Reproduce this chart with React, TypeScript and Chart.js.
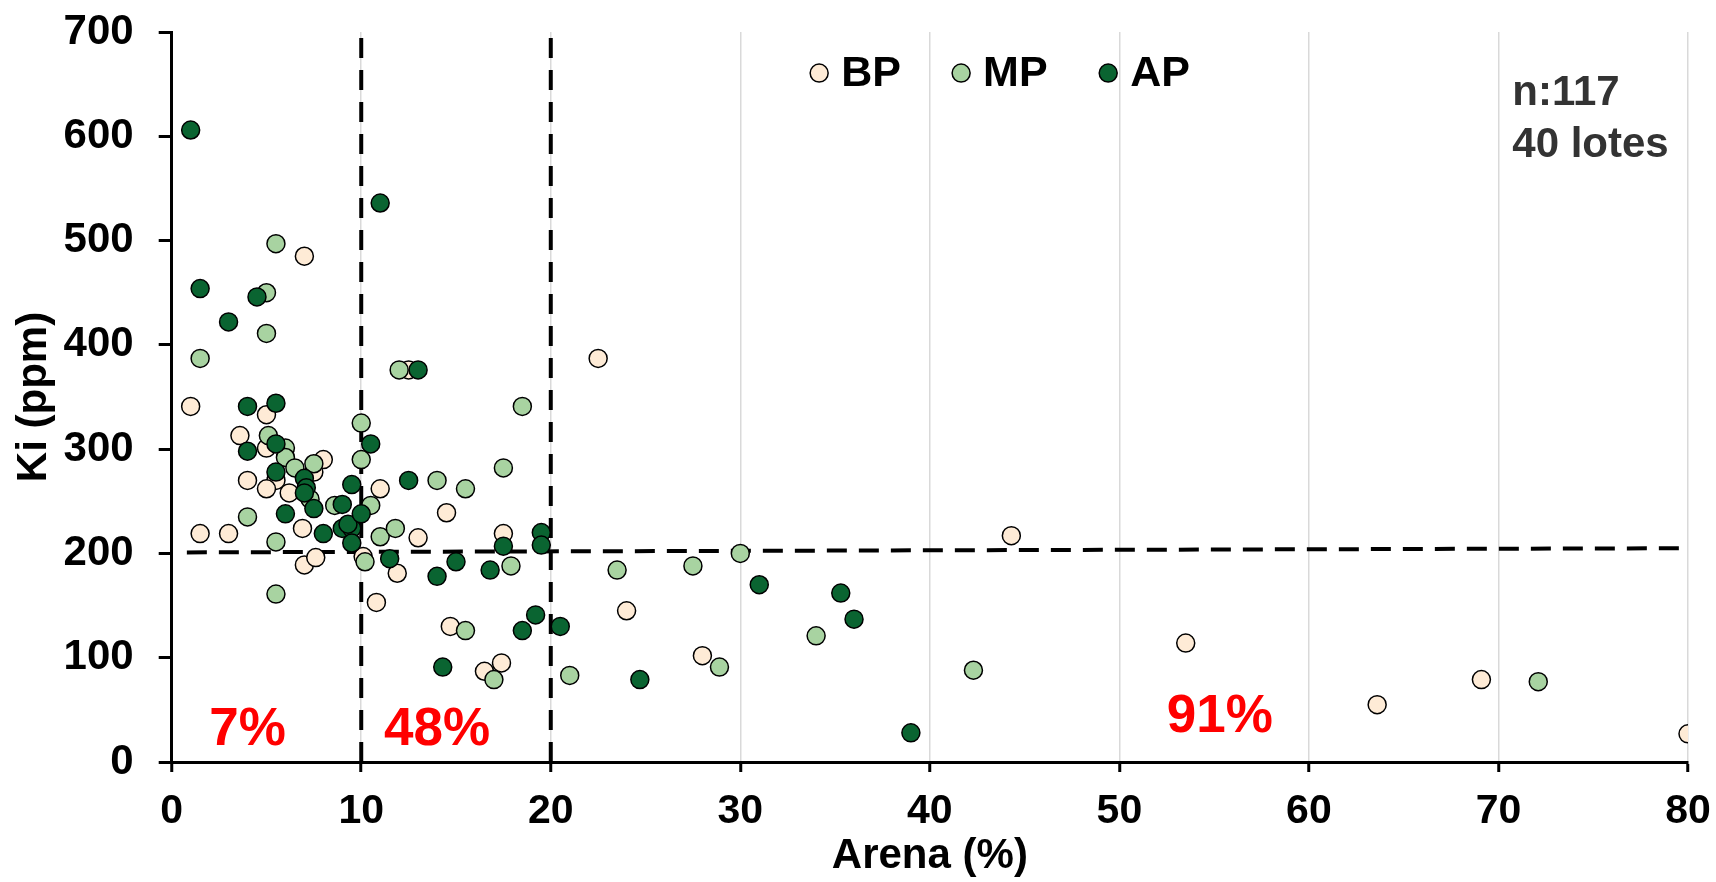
import React, { useEffect, useRef } from "react";
import { Chart, registerables } from "chart.js";

Chart.register(...registerables);

const FONT = "'Liberation Sans', Arial, Helvetica, sans-serif";

// BP series (Arena %, Ki ppm)
const bpArena = [1.0, 5.0, 3.6, 5.0, 8.0, 7.5, 5.5, 4.0, 5.0, 6.2, 6.9, 1.5, 3.0, 10.1, 11.9, 10.8, 7.0, 7.6, 11.0, 14.5, 13.0, 17.5, 14.7, 16.5, 17.4, 7.0, 12.5, 22.5, 44.3, 24.0, 28.0, 53.5, 63.6, 69.1, 80.0];
const bpKi = [341, 333, 313, 301, 290, 278, 270, 270, 262, 258, 224, 219, 219, 197, 181, 153, 189, 196, 262, 239, 215, 219, 130, 87, 95, 485, 376, 387, 217, 145, 102, 114, 55, 79, 27];

// MP series
const mpArena = [5.5, 5.0, 5.0, 1.5, 12.0, 5.1, 6.0, 6.0, 7.5, 6.5, 7.3, 8.6, 4.0, 5.5, 10.0, 10.0, 10.5, 10.2, 11.0, 11.8, 5.5, 14.0, 15.5, 17.5, 18.5, 17.9, 15.5, 17.0, 21.0, 30.0, 23.5, 27.5, 34.0, 28.9, 42.3, 72.1];
const mpKi = [497, 450, 411, 387, 376, 313, 301, 292, 286, 282, 252, 246, 235, 211, 325, 290, 246, 192, 216, 224, 161, 270, 262, 282, 341, 188, 126, 79, 83, 200, 184, 188, 121, 91, 88, 77];

// AP series
const apArena = [1.0, 11.0, 1.5, 4.5, 3.0, 13.0, 4.0, 5.5, 5.5, 4.0, 5.5, 7.0, 7.1, 7.0, 9.0, 9.5, 7.5, 6.0, 8.0, 9.0, 9.5, 9.3, 9.5, 10.0, 10.5, 11.5, 12.5, 17.5, 19.5, 19.5, 16.8, 15.0, 14.0, 19.2, 18.5, 20.5, 14.3, 31.0, 35.3, 36.0, 24.7, 39.0];
const apKi = [606, 536, 454, 446, 422, 376, 341, 344, 305, 298, 278, 272, 263, 258, 247, 266, 243, 238, 219, 224, 224, 228, 210, 238, 305, 195, 270, 207, 220, 208, 184, 192, 178, 141, 126, 130, 91, 170, 162, 137, 79, 28];

// Threshold (dashed) lines
const vLine10X = [10, 10];
const vLine20X = [20, 20];
const vLineY = [0, 700];
const hLineX = [0.8, 80];
const hLineY = [201, 205];

// Axis ranges / ticks
const xRange = [0, 80];
const xStep = 10;
const yRange = [0, 700];
const yStep = 100;

// Annotations
const legendLabels = ["BP", "MP", "AP"];
const legendX = [34.16, 41.65, 49.41];
const legendY = 660.6;
const percentLabels = ["7%", "48%", "91%"];
const percentX = [4.0, 14.0, 55.3];
const percentY = [16, 16, 29];
const infoLines = ["n:117", "40 lotes"];
const infoX = 70.73;
const infoY = 630;

const COLORS = ["#FEEBD6", "#A8D3A1", "#0A6431"];

const toPts = (xs: number[], ys: number[]) => xs.map((x, i) => ({ x, y: ys[i] }));

const overlayPlugin = {
  id: "overlay",
  afterDatasetsDraw(chart: any) {
    const { ctx, scales } = chart;
    const xs = scales.x;
    const ys = scales.y;
    ctx.save();
    // percentage labels
    ctx.font = `bold 53px ${FONT}`;
    ctx.fillStyle = "#FF0000";
    ctx.textAlign = "center";
    ctx.textBaseline = "alphabetic";
    percentLabels.forEach((t, i) => {
      ctx.fillText(t, xs.getPixelForValue(percentX[i]), ys.getPixelForValue(percentY[i]));
    });
    // legend
    ctx.font = `bold 43px ${FONT}`;
    ctx.textAlign = "left";
    legendLabels.forEach((t, i) => {
      const cx = xs.getPixelForValue(legendX[i]);
      const cy = ys.getPixelForValue(legendY);
      ctx.beginPath();
      ctx.arc(cx, cy, 9, 0, Math.PI * 2);
      ctx.fillStyle = COLORS[i];
      ctx.fill();
      ctx.lineWidth = 1.5;
      ctx.strokeStyle = "#000";
      ctx.stroke();
      ctx.fillStyle = "#000";
      ctx.fillText(t, cx + 22, cy + 13);
    });
    // info text
    ctx.font = `bold 42px ${FONT}`;
    ctx.fillStyle = "#333333";
    const ix = xs.getPixelForValue(infoX);
    const iy = ys.getPixelForValue(infoY);
    infoLines.forEach((t, i) => {
      ctx.fillText(t, ix, iy + i * 52);
    });
    ctx.restore();
  },
};

export default function App() {
  const ref = useRef<HTMLCanvasElement | null>(null);

  useEffect(() => {
    if (!ref.current) return;
    const dashed = {
      type: "line" as const,
      borderColor: "#000",
      borderWidth: 4,
      borderDash: [20, 12],
      pointRadius: 0,
      showLine: true,
      fill: false,
      order: 10,
    };
    const pointStyle = (i: number) => ({
      type: "scatter" as const,
      backgroundColor: COLORS[i],
      borderColor: "#000",
      borderWidth: 1.5,
      pointRadius: 9,
      pointHoverRadius: 9,
    });
    const chart = new Chart(ref.current, {
      type: "scatter",
      data: {
        datasets: [
          { ...dashed, label: "v10", data: toPts(vLine10X, vLineY) },
          { ...dashed, label: "v20", data: toPts(vLine20X, vLineY) },
          { ...dashed, label: "h200", data: toPts(hLineX, hLineY) },
          { ...pointStyle(0), label: legendLabels[0], data: toPts(bpArena, bpKi), order: 3 },
          { ...pointStyle(1), label: legendLabels[1], data: toPts(mpArena, mpKi), order: 2 },
          { ...pointStyle(2), label: legendLabels[2], data: toPts(apArena, apKi), order: 1 },
        ] as any,
      },
      options: {
        animation: false,
        responsive: false,
        events: [],
        layout: { padding: { top: 32, right: 28, left: 0, bottom: 0 } },
        plugins: {
          legend: { display: false },
          tooltip: { enabled: false },
        },
        scales: {
          x: {
            type: "linear",
            min: xRange[0],
            max: xRange[1],
            afterFit: (s: any) => {
              s.height = 120;
              s.paddingLeft = 0;
              s.paddingRight = 0;
            },
            ticks: {
              stepSize: xStep,
              padding: 15,
              color: "#000",
              font: { family: FONT, size: 41, weight: "bold" },
              maxRotation: 0,
            },
            grid: {
              color: "#d9d9d9",
              lineWidth: 1.5,
              tickColor: "#000",
              tickWidth: 3,
              tickLength: 10,
            },
            border: { color: "#000", width: 3 },
            title: {
              display: true,
              text: "Arena (%)",
              color: "#000",
              font: { family: FONT, size: 42, weight: "bold" },
              padding: { top: 0, bottom: 0 },
            },
          },
          y: {
            type: "linear",
            min: yRange[0],
            max: yRange[1],
            afterFit: (s: any) => {
              s.width = 171.7;
              s.paddingTop = 0;
              s.paddingBottom = 0;
            },
            ticks: {
              stepSize: yStep,
              padding: 25,
              color: "#000",
              font: { family: FONT, size: 42, weight: "bold" },
            },
            grid: {
              drawOnChartArea: false,
              tickColor: "#000",
              tickWidth: 3,
              tickLength: 13,
            },
            border: { color: "#000", width: 3 },
            title: {
              display: true,
              text: "Ki (ppm)",
              color: "#000",
              font: { family: FONT, size: 42, weight: "bold" },
              padding: { top: 9, bottom: 0 },
            },
          },
        },
      } as any,
      plugins: [overlayPlugin],
    });
    return () => chart.destroy();
  }, []);

  return (
    <div style={{ position: "fixed", left: 0, top: 0, width: 1716, height: 882, background: "#fff" }}>
      <canvas ref={ref} width={1716} height={882} style={{ display: "block" }} />
    </div>
  );
}
